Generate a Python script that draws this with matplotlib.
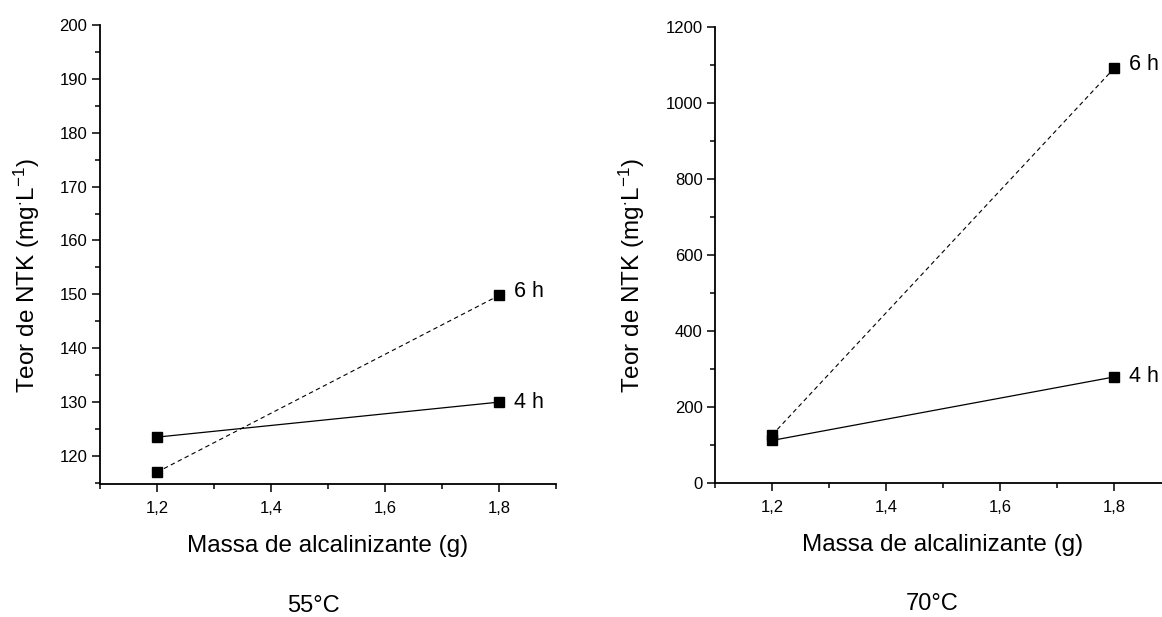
import numpy as np
import matplotlib
matplotlib.use("Agg")
import matplotlib.pyplot as plt
from matplotlib.ticker import MultipleLocator, FuncFormatter

plt.rcParams['font.family'] = ['Liberation Sans', 'DejaVu Sans']
plt.rcParams['mathtext.fontset'] = 'custom'
plt.rcParams['mathtext.rm'] = 'Liberation Sans'
plt.rcParams['mathtext.it'] = 'Liberation Sans'

massa = [1.2, 1.8]

# 55 C
ntk55_4h = [123.5, 130.0]
ntk55_6h = [117.0, 149.8]

# 70 C
ntk70_4h = [112.0, 279.0]
ntk70_6h = [126.0, 1091.0]

W, H = 1162, 617
fig = plt.figure(figsize=(W / 100, H / 100), dpi=100)

ax1 = fig.add_axes([100 / W, 1 - 484 / H, 456 / W, 459 / H])
ax2 = fig.add_axes([715 / W, 1 - 483 / H, 456 / W, 456 / H])

comma = FuncFormatter(lambda v, p: ("%.1f" % v).replace(".", ","))

def style(ax, ylim, y4, y6, major, minor, caption, ylab_x, cap_x):
    ax.plot(massa, y4, "-", color="black", lw=0.9, marker="s", ms=7.5)
    ax.plot(massa, y6, color="black", lw=0.8, marker="s", ms=7.5,
            linestyle=(0, (4, 3)))
    ax.set_xlim(1.1, 1.9)
    ax.set_ylim(*ylim)
    for s in ["top", "right"]:
        ax.spines[s].set_visible(False)
    ax.spines["left"].set_linewidth(1.3)
    ax.spines["bottom"].set_linewidth(1.3)
    ax.xaxis.set_major_locator(MultipleLocator(0.2))
    ax.xaxis.set_minor_locator(MultipleLocator(0.1))
    ax.xaxis.set_major_formatter(comma)
    ax.yaxis.set_major_locator(MultipleLocator(major))
    ax.yaxis.set_minor_locator(MultipleLocator(minor))
    ax.tick_params(which="major", direction="out", length=6, width=1.1,
                   labelsize=12, pad=3)
    ax.tick_params(axis="x", which="major", pad=6)
    ax.tick_params(which="minor", direction="out", length=3.5, width=1.1)
    ax.set_xlabel("Massa de alcalinizante (g)", fontsize=17.5)
    ax.xaxis.label.set_va("center")
    ax.xaxis.set_label_coords(0.5, -62 / 459)
    ax.set_ylabel("Teor de NTK (mg$^{\\cdot}$L$^{-1}$)", fontsize=17.5)
    ax.yaxis.label.set_va("center")
    ax.yaxis.set_label_coords(ylab_x, 0.455)
    ax.text(cap_x, -122 / 459, caption, transform=ax.transAxes, ha="center",
            va="center", fontsize=17)
    ax.annotate("6 h", (massa[1], y6[1]), xytext=(11, 3),
                textcoords="offset points", va="center", fontsize=15.5)
    ax.annotate("4 h", (massa[1], y4[1]), xytext=(11, 0),
                textcoords="offset points", va="center", fontsize=15.5)

style(ax1, (114.8, 200), ntk55_4h, ntk55_6h, 10, 5, "55°C", -73 / 456, 0.467)
style(ax2, (0, 1200), ntk70_4h, ntk70_6h, 200, 100, "70°C", -83 / 456, 0.476)

fig.savefig("out.png", dpi=100)
